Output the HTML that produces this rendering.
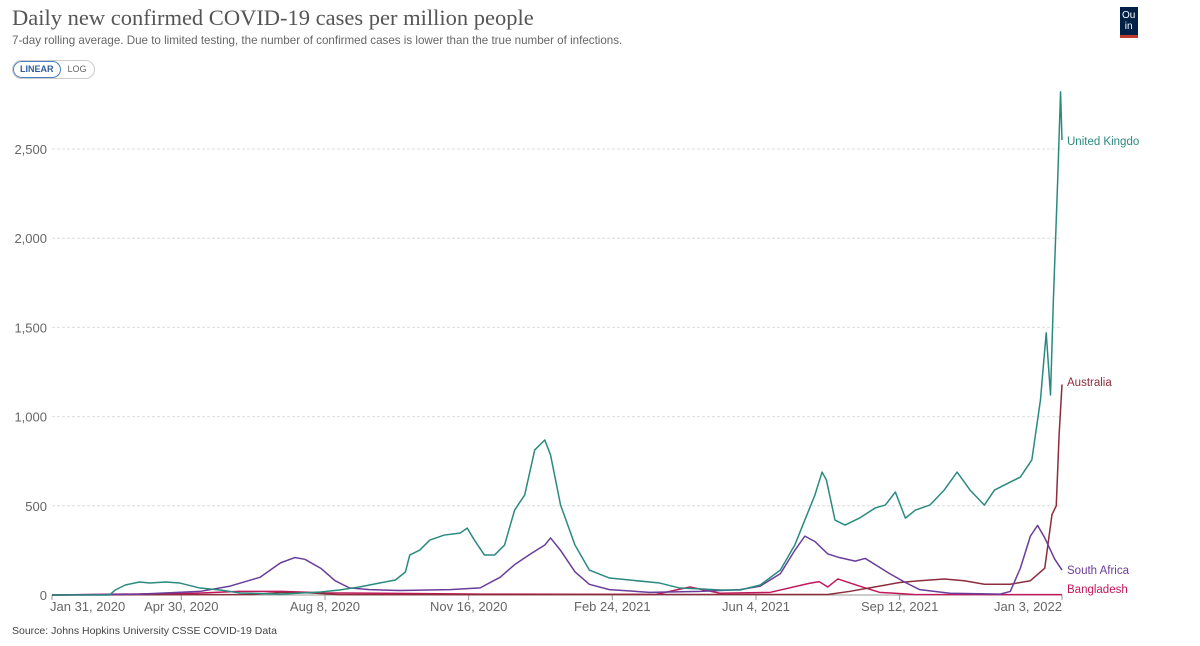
<!DOCTYPE html>
<html><head><meta charset="utf-8"><style>
body{margin:0;width:1200px;height:646px;background:#fff;overflow:hidden;font-family:"Liberation Sans",sans-serif;position:relative}
#title{position:absolute;left:12px;top:5px;font-family:"Liberation Serif",serif;font-size:22.5px;color:#555}
#sub{position:absolute;left:12px;top:34px;font-size:11.6px;color:#666}
#toggle{position:absolute;left:12px;top:60px;height:17px;border:1px solid #ccc;border-radius:10px;font-size:9px;display:flex;overflow:hidden}
#toggle span{padding:3px 7px;color:#666}
#toggle .on{border:1px solid #4a7fc1;border-radius:10px;color:#2d5e9e;font-weight:bold;padding:2px 6px}
#logo{position:absolute;left:1120px;top:7px;width:18px;height:31px;background:#002147;border-bottom:3px solid #c0392b;box-sizing:border-box;color:#fff;font-size:10px;line-height:11px;padding:3px 0 0 2px;overflow:hidden}
#src{position:absolute;left:12px;top:625px;font-size:10.5px;color:#444}
</style></head><body>
<div id="title">Daily new confirmed COVID-19 cases per million people</div>
<div id="sub">7-day rolling average. Due to limited testing, the number of confirmed cases is lower than the true number of infections.</div>
<div id="toggle"><span class="on">LINEAR</span><span>LOG</span></div>
<div id="logo">Ou<br>&nbsp;in</div>
<svg id="chart" width="1200" height="646" style="position:absolute;left:0;top:0"></svg>
<div id="src">Source: Johns Hopkins University CSSE COVID-19 Data</div>
<script>
const yTicks=[0,500,1000,1500,2000,2500];
const xTickDays=[0,90,190,290,390,490,590,703];
const xTickLabels=["Jan 31, 2020","Apr 30, 2020","Aug 8, 2020","Nov 16, 2020","Feb 24, 2021","Jun 4, 2021","Sep 12, 2021","Jan 3, 2022"];
const ukDays=[0,40,44,51,61,68,79,89,103,117,131,159,187,200,214,228,239,246,249,256,263,273,284,289,294,301,308,315,322,329,336,343,347,354,364,374,388,402,423,437,451,465,479,493,507,517,524,531,536,539,545,552,562,573,580,587,594,601,611,621,630,639,649,656,667,674,682,688,692,695,697,700,702,703];
const ukVals=[0,0,28,56,73,67,73,67,39,28,11,5,17,28,45,67,84,129,224,252,308,336,347,375,308,224,224,280,476,560,813,869,785,504,280,140,95,84,67,39,34,28,28,56,140,280,420,560,689,645,420,392,431,488,504,577,431,476,504,588,689,588,504,588,633,661,757,1093,1469,1121,1654,2326,2820,2550];
const zaDays=[0,61,103,124,145,159,169,176,187,197,207,221,242,277,298,312,322,333,343,347,354,364,374,388,416,451,479,493,507,517,524,531,540,548,559,566,573,583,594,604,625,660,667,674,681,686,691,698,703];
const zaVals=[0,5,20,50,100,180,210,200,150,80,40,30,25,30,40,100,170,230,280,320,250,130,60,30,15,20,30,50,120,250,330,300,230,210,190,205,170,120,70,30,10,5,20,150,330,390,320,200,140];
const auDays=[0,140,160,180,200,540,555,576,590,604,621,635,649,667,681,691,696,699,701,703];
const auVals=[0,3,15,12,2,3,20,50,70,80,90,80,60,60,80,150,450,500,900,1180];
const bdDays=[0,100,130,160,190,300,420,444,465,500,527,534,540,547,562,576,600,703];
const bdVals=[0,10,20,20,12,5,3,45,10,15,65,75,45,90,50,15,3,2];
const NS="http://www.w3.org/2000/svg";
const svg=document.getElementById('chart');
const x0=52,x1=1062,y0=595,yTop=149;
const X=d=>x0+(x1-x0)*d/703, Y=v=>y0-(y0-yTop)*v/2500;
function mk(t,a){const e=document.createElementNS(NS,t);for(const k in a)e.setAttribute(k,a[k]);svg.appendChild(e);return e;}
yTicks.forEach(v=>{
 if(v>0){const g=mk('line',{x1:x0,x2:x1,y1:Y(v),y2:Y(v),stroke:'#ddd','stroke-dasharray':'3,2'});
 
 }
 const t=mk('text',{x:47,y:Y(v)+5,'text-anchor':'end','font-size':13,fill:'#666','font-family':'Liberation Sans'});
 t.textContent=v.toLocaleString('en-US');
 
 
});
const ax=mk('line',{x1:x0,x2:x1,y1:y0,y2:y0,stroke:'#999'});


xTickDays.forEach((d,i)=>{
 const tk=mk('line',{x1:X(d),x2:X(d),y1:y0,y2:y0+5,stroke:'#999'});
 
 
 const anchor=i==0?'start':(i==xTickDays.length-1?'end':'middle');
 const t=mk('text',{x:i==0?X(d)-2:X(d),y:611,'text-anchor':anchor,'font-size':13,fill:'#666','font-family':'Liberation Sans'});
 t.textContent=xTickLabels[i];
 
 
});
function series(days,vals,color,name,label,ly){
 const p=mk('polyline',{points:days.map((d,i)=>X(d)+','+Y(vals[i])).join(' '),fill:'none',stroke:color,'stroke-width':1.5,'stroke-linejoin':'round'});
 
 
 const t=mk('text',{x:1067,y:ly,'font-size':11.5,fill:color,'font-family':'Liberation Sans'});
 t.textContent=label;
 
 
}
series(bdDays,bdVals,'#c2185b','bangladesh','Bangladesh',593);
series(auDays,auVals,'#8c2c3c','australia','Australia',386);
series(zaDays,zaVals,'#6a3d9a','south-africa','South Africa',574);
series(ukDays,ukVals,'#2b8a80','united-kingdom','United Kingdo',145);
</script>
</body></html>
